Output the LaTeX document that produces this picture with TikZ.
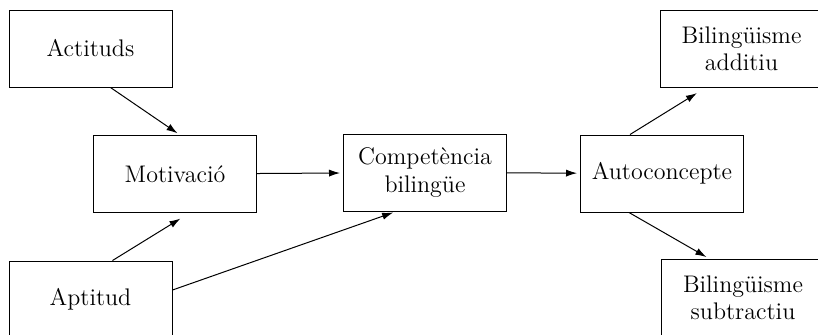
\documentclass[tikz,border=0pt]{standalone}
\usepackage{fontspec}
\usetikzlibrary{arrows,arrows.meta,positioning}

\begin{document}
\begin{tikzpicture}[x=0.5pt, y=-0.5pt,
	box/.style = {draw, line width=0.5pt,
                   minimum width=81.5pt,
                   minimum height=38.5pt,
                   align=center, inner sep=2pt,
                   font=\fontsize{12}{13.5}\selectfont},
	link/.style = {-{Latex[length=5.5pt,width=3.6pt]}, line width=0.5pt, shorten >=1.5pt}
                   ]
\clip (0,0) rectangle (818,334);

\node[box] (act) at (90.5,48.5) {Actituds};
\node[box] (mot) at (175,174) {Motivació};
\node[box] (apt) at (90.5,299.5) {Aptitud};
\node[box] (comp) at (425,172.5) {Competència\\bilingüe};
\node[box] (auto) at (662,173.5) {Autoconcepte};
\node[box] (add) at (741.5,48.5) {Bilingüisme\\additiu};
\node[box] (sub) at (743,297.5) {Bilingüisme\\subtractiu};

\draw[link] ([xshift=10pt]act.south) -- ([xshift=2.5pt]mot.north);
\draw[link] ([xshift=11pt]apt.north) -- ([xshift=4pt,yshift=-2pt]mot.south);
\draw[link] ([yshift=4.75pt]apt.east) -- ([xshift=-14.5pt]comp.south);
\draw[link] (mot) -- (comp);
\draw[link] (comp) -- (auto);
\draw[link] ([xshift=-16pt]auto.north) -- ([xshift=-21pt,yshift=-2pt]add.south);
\draw[link] ([xshift=-16.5pt]auto.south) -- ([xshift=-17pt]sub.north);
\end{tikzpicture}
\end{document}
